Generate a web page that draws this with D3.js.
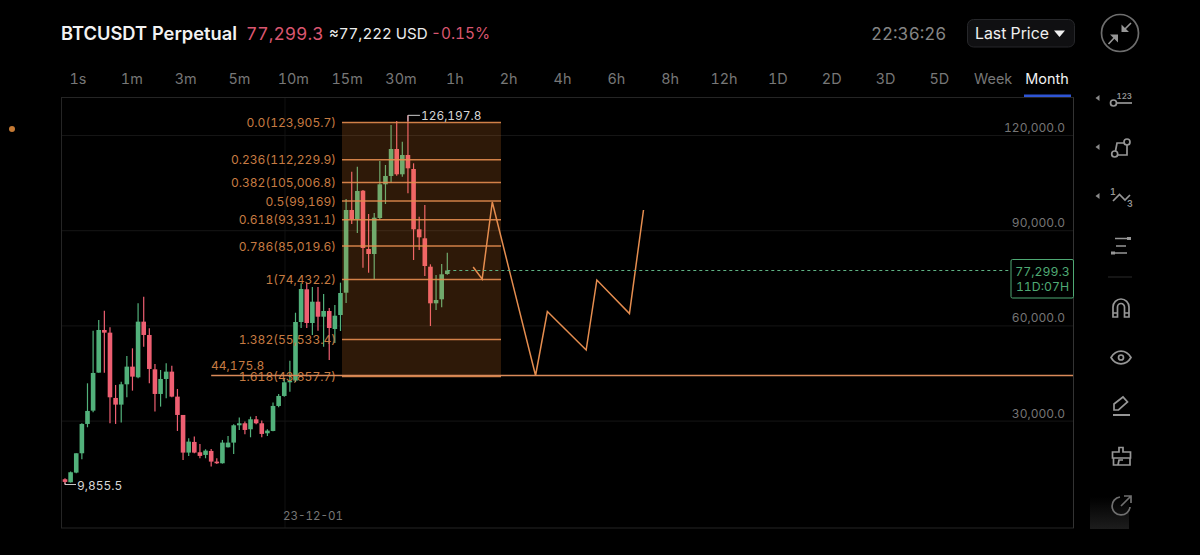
<!DOCTYPE html>
<html>
<head>
<meta charset="utf-8">
<script src="https://cdn.jsdelivr.net/npm/d3@7/dist/d3.min.js"></script>
<style>
html,body{margin:0;padding:0;background:#000;overflow:hidden}
svg{display:block}
text{font-family:Inter,"Noto Sans",sans-serif;font-variant-numeric:tabular-nums;font-feature-settings:"tnum"}
</style>
</head>
<body>
<div id="chart"></div>
<script>
const timeframes=["1s","1m","3m","5m","10m","15m","30m","1h","2h","4h","6h","8h","12h","1D","2D","3D","5D","Week","Month"];
const priceTicks=[30000,60000,90000,120000];
const opens=[11515,10570,13615,19705,28945,33145,45115,58555,57715,37135,35035,41440,47005,43645,61180,56980,46165,38395,43120,45430,37555,31780,19915,23275,20020,19180,20440,17080,16555,21595,23065,28525,29155,27265,30415,29155,26005,26740,34615,37765,42070,42595,61070,71375,60755,67470,62740,64540,58860,63270,70305,96365,93530,102450,84075,82500,93845,104465,107080,115590,107615,113700,109285,90285,87450,78500,66960,68225,76200];
const highs=[11830,13930,19705,29155,41755,58345,61705,64645,59395,41230,42280,50365,52780,66955,69055,59080,47845,45955,48055,47320,39970,31780,24430,24955,22645,20965,21070,18130,23905,25165,28840,30940,29680,31255,31465,29995,27265,35665,38395,43330,48895,64000,73265,73360,72100,72100,69900,65480,66430,73460,99830,108430,110010,102670,95105,95420,111806,110546,123150,124410,117890,126197.8,111080,94255,97940,79255,75880,79350,82910];
const lows=[9855.5,10465,13405,17815,27895,32620,45115,45115,29155,28945,29365,37345,39445,43330,53305,41755,32830,34405,37030,37345,26740,17605,18865,19705,18130,18130,15505,16345,16450,21490,19495,27055,25690,24745,28840,24745,25165,26635,34195,37555,39130,42160,59180,59180,56975,58330,53290,49100,54450,58235,67060,91950,89120,78180,76605,74620,93215,98255,104970,107175,106860,101630,80610,83760,75565,59810,64850,65700,75975];
const closes=[10675,13720,19705,28945,33040,45010,58555,57715,37345,35035,41440,47005,43855,61180,56980,46270,38395,43120,45430,37555,31780,19915,23380,19915,18865,20545,17080,16555,23065,23065,28525,29155,27055,30415,29155,25795,26845,34615,37765,42070,42595,61070,71470,60755,67470,62740,64540,59180,63055,70210,96365,93530,102350,84390,82500,93940,104465,107080,115590,107615,113700,109505,90285,87760,78720,66960,68000,76100,77299.3];
const fibLevels=["0.0","0.236","0.382","0.5","0.618","0.786","1","1.382","1.618"];
const fibPrices=[123905.7,112229.9,105006.8,99169,93331.1,85019.6,74432.2,55533.4,43857.7];
const zigzagIndex=[72.6,74.2,76,83.7,85.8,92.7,94.6,100.4,102.9];
const zigzagPrice=[78400,74620,98885,44210,64380,52245,74305,63750,96365];
const lastPrice=77299.3, swingLow=44175.8, allHigh=126197.8, allLow=9855.5;

const W=1200,H=555;
const svg=d3.select("#chart").append("svg").attr("width",W).attr("height",H);
svg.append("rect").attr("width",W).attr("height",H).attr("fill","#000");

const x=d3.scaleLinear().domain([0,68]).range([65,447.3]);
const y=d3.scaleLinear().domain([30000,120000]).range([420.6,135]);
const fmt=d3.format(",.1f");
const fibFmt=v=>d3.format(",")(v);
const GREEN="#52b17b",RED="#ee5f72",ORANGE="#e58d4f",LABEL="#c67b42";

/* header */
const T=(s,px,py,size,fill,weight,anchor)=>svg.append("text").text(s).attr("x",px).attr("y",py)
  .attr("font-size",size).attr("fill",fill).attr("font-weight",weight||400).attr("text-anchor",anchor||"start");
T("BTCUSDT Perpetual",61,39.5,18.3,"#f2f2f2",600);
T("77,299.3",246,39.5,17.5,"#d9566f",400);
T("≈77,222 USD",329,39,15.1,"#ececec",400);
T("-0.15%",431,39,15.4,"#d9566f",400);
T("22:36:26",871,39.5,17,"#858585",400);
svg.append("rect").attr("x",967.5).attr("y",19.5).attr("width",107).attr("height",27.5).attr("rx",6)
  .attr("fill","#101012").attr("stroke","#26272a");
T("Last Price",975,38.5,15.8,"#f0f0f0",400);
svg.append("path").attr("d","M1054,30.5h11l-5.5,6.5z").attr("fill","#f0f0f0");

/* timeframe row */
const tfX=d3.scalePoint().domain(timeframes).range([78,1047]);
svg.append("g").selectAll("text").data(timeframes).join("text")
  .text(d=>d).attr("x",d=>tfX(d)).attr("y",84).attr("text-anchor","middle").attr("font-size",14.4)
  .attr("fill",d=>d==="Month"?"#f2f2f2":"#777");
svg.append("rect").attr("x",1024).attr("y",94.5).attr("width",47).attr("height",2.5).attr("fill","#2f55d4");

svg.append("circle").attr("cx",12).attr("cy",129).attr("r",3).attr("fill","#c57a34");

/* frame + grid */
svg.append("line").attr("x1",285).attr("x2",285).attr("y1",98).attr("y2",528).attr("stroke","#101010");
const axis=d3.axisRight(y).tickValues(priceTicks).tickSize(1012).tickFormat(fmt);
const ag=svg.append("g").attr("transform","translate(61,0)").call(axis);
ag.select(".domain").remove();
ag.selectAll(".tick line").attr("stroke","#151515");
ag.selectAll(".tick text").attr("x",1004).attr("dy",0).attr("y",-3.5).attr("text-anchor","end")
  .attr("font-size",12).attr("fill","#757575");
svg.append("rect").attr("x",61.5).attr("y",97.5).attr("width",1012).attr("height",430.5)
  .attr("fill","none").attr("stroke","#252525");
svg.append("line").attr("x1",1073.5).attr("x2",1073.5).attr("y1",97.5).attr("y2",528).attr("stroke","#333");

/* candles */
const candles=opens.map((o,i)=>({i,o,h:highs[i],l:lows[i],c:closes[i]}));
const cg=svg.append("g");
const col=d=>d.c>=d.o?GREEN:RED;
cg.selectAll("line").data(candles).join("line")
  .attr("x1",d=>x(d.i)).attr("x2",d=>x(d.i)).attr("y1",d=>y(d.h)).attr("y2",d=>y(d.l))
  .attr("stroke",col).attr("stroke-width",1.2);
cg.selectAll("rect").data(candles).join("rect")
  .attr("x",d=>x(d.i)-2.3).attr("width",4.6)
  .attr("y",d=>y(Math.max(d.o,d.c))).attr("height",d=>Math.max(1.5,Math.abs(y(d.o)-y(d.c))))
  .attr("fill",col);

/* fib box */
const fibStart=49.27,fibEnd=77.55,swingStart=26,rightEnd=179.3,priceEnd=168.3;
svg.append("rect").attr("x",x(fibStart)).attr("width",x(fibEnd)-x(fibStart))
  .attr("y",y(fibPrices[0])).attr("height",y(fibPrices[8])-y(fibPrices[0]))
  .attr("fill","#ff8c2e").attr("opacity",0.18);
svg.append("g").selectAll("line").data(fibPrices).join("line")
  .attr("x1",x(fibStart)).attr("x2",x(fibEnd)).attr("y1",d=>y(d)).attr("y2",d=>y(d))
  .attr("stroke",ORANGE).attr("stroke-width",1.5).attr("opacity",.9);
svg.append("g").selectAll("text").data(fibPrices).join("text")
  .text((d,i)=>`${fibLevels[i]}(${fibFmt(d)})`)
  .attr("x",336).attr("y",d=>y(d)+4.6).attr("text-anchor","end").attr("font-size",12.05).attr("fill",LABEL);

/* swing low */
svg.append("line").attr("x1",x(swingStart)).attr("x2",x(rightEnd)).attr("y1",y(swingLow)).attr("y2",y(swingLow))
  .attr("stroke","#d98a5a").attr("stroke-width",1.5);
T(fibFmt(swingLow),211,370,12.05,LABEL);

/* zigzag */
const zz=d3.line().x(d=>x(d[0])).y(d=>y(d[1]));
svg.append("path").attr("d",zz(zigzagIndex.map((v,i)=>[v,zigzagPrice[i]])))
  .attr("fill","none").attr("stroke",ORANGE).attr("stroke-width",1.5);

/* last price */
svg.append("line").attr("x1",x(68)).attr("x2",x(priceEnd)).attr("y1",y(lastPrice)).attr("y2",y(lastPrice))
  .attr("stroke","#5fb384").attr("stroke-width",1.2).attr("stroke-dasharray","3 3");
svg.append("rect").attr("x",1011).attr("y",259.5).attr("width",62.5).attr("height",38.5).attr("rx",1.5)
  .attr("fill","#000").attr("stroke","#4fa974");
T(fmt(lastPrice),1042.5,276,12.3,"#4fa974",400,"middle");
T("11D:07H",1042.5,291,12.3,"#4fa974",400,"middle");

/* high / low annotations */
const hiI=highs.indexOf(allHigh),loI=lows.indexOf(allLow);
svg.append("path").attr("d",`M${x(hiI)},${y(allHigh)+6}V${y(allHigh)}H${x(hiI)+12}`).attr("fill","none").attr("stroke","#ccc");
T(fmt(allHigh),421,120.3,11.9,"#d6d6d6");
svg.append("path").attr("d",`M${x(loI)},${y(allLow)-2}V${y(allLow)}H${x(loI)+11}`).attr("fill","none").attr("stroke","#ccc");
T(fmt(allLow),77,489.5,12,"#d6d6d6");
T("23-12-01",313,520,11.6,"#757575",400,"middle");

/* right toolbar */
const IC="#969696";
const ic=svg.append("g").attr("fill","none").attr("stroke",IC).attr("stroke-width",1.7);
ic.append("circle").attr("cx",1120).attr("cy",33).attr("r",18.5).attr("stroke","#6e6e6e");
ic.append("path").attr("d","M1125,29L1131,23M1108.5,44L1115,37").attr("stroke-width",1.6);
svg.append("path").attr("d","M1121.5,32V24.5L1129,32ZM1118,34.5V42.5L1110,34.5Z").attr("fill",IC);
const tri=(py)=>svg.append("path").attr("d",`M1095.5,${py}l4,-3v6z`).attr("fill","#8a8a8a");
tri(98);tri(147);tri(196);
ic.append("circle").attr("cx",1113.5).attr("cy",103).attr("r",3);
ic.append("path").attr("d","M1117,103H1132");
T("123",1116.5,99,8,IC,600);
ic.append("path").attr("d","M1115.5,151L1117,143H1124M1127,145V155H1118");
ic.append("circle").attr("cx",1114.7).attr("cy",154).attr("r",3);
ic.append("circle").attr("cx",1127).attr("cy",142).attr("r",3);
T("1",1110,195,9,IC,600);T("3",1127,207,9,IC,600);
ic.append("path").attr("d","M1113,201L1119.5,194.5L1125,200L1130,195");
ic.append("path").attr("d","M1115,238.5H1129M1116,246H1126M1115,253H1127");
svg.append("rect").attr("x",1127).attr("y",237).attr("width",4).attr("height",3).attr("fill",IC);
svg.append("rect").attr("x",1111).attr("y",251.5).attr("width",4).attr("height",3).attr("fill",IC);
svg.append("line").attr("x1",1108).attr("x2",1132).attr("y1",277).attr("y2",277).attr("stroke","#2a2a2a");
ic.append("path").attr("d","M1113,317V307A8,8 0 0 1 1129,307V317H1124.5V307A3.5,3.5 0 0 0 1117.5,307V317Z");
ic.append("path").attr("d","M1113,313H1117.5M1124.5,313H1129");
ic.append("path").attr("d","M1111,357.5C1116,349 1126,349 1131,357.5C1126,366 1116,366 1111,357.5Z");
ic.append("circle").attr("cx",1121).attr("cy",357.5).attr("r",2.5);
ic.append("path").attr("d","M1114,410V404L1123,397L1127.5,402L1118.5,410Z");
ic.append("path").attr("d","M1113,415H1130").attr("stroke-width",2);
ic.append("path").attr("d","M1119,452V447.5H1123V452H1130.5V458H1112.5V452ZM1113.5,458V465H1130V458M1118,465L1119,460H1123");

const grad=svg.append("defs").append("linearGradient").attr("id","fade").attr("x1",0).attr("x2",0).attr("y1",0).attr("y2",1);
grad.append("stop").attr("offset",0).attr("stop-color","#000");
grad.append("stop").attr("offset",1).attr("stop-color","#1d1d1d");
svg.append("rect").attr("x",1090).attr("y",497).attr("width",39).attr("height",32).attr("fill","url(#fade)");
const sh=svg.append("g").attr("fill","none").attr("stroke","#6f6f6f").attr("stroke-width",1.7);
sh.append("path").attr("d","M1120,497A9,9 0 1 0 1130,507");
sh.append("path").attr("d","M1121,506L1130.5,496.5M1124,496H1131V503");
</script>
</body>
</html>
